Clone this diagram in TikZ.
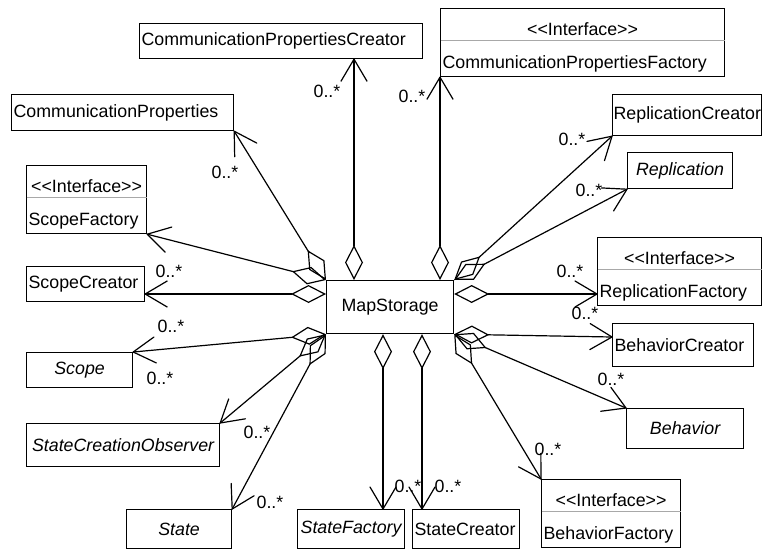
\documentclass[tikz,border=0pt]{standalone}
\usepackage{fontspec}
\setmainfont{Liberation Sans}
\usepackage{tikz}
\usetikzlibrary{calc,arrows.meta}
\definecolor{ink}{HTML}{000000}
\definecolor{rule}{HTML}{A8A8A8}
\newcommand{\ifctext}[1]{\rule{0pt}{27pt}\makebox[\hsize]{<{}<Interface>{}>}\\#1\rule[-8pt]{0pt}{8pt}}
% open V head of a navigable association
\pgfdeclarearrow{
  name = Open Vee,
  parameters = {\the\pgfarrowlength,\the\pgfarrowwidth,\the\pgflinewidth},
  setup code = {
    \pgfarrowssettipend{\pgfarrowlength}
    \pgfarrowssetlineend{\pgfarrowlength}
    \pgfarrowshullpoint{\pgfarrowlength}{0pt}
    \pgfarrowsupperhullpoint{0pt}{.5\pgfarrowwidth}
    \pgfarrowssavethe\pgfarrowlength
    \pgfarrowssavethe\pgfarrowwidth
  },
  drawing code = {
    \pgfsetroundjoin\pgfsetroundcap
    \pgfpathmoveto{\pgfqpoint{0pt}{.5\pgfarrowwidth}}
    \pgfpathlineto{\pgfqpoint{\pgfarrowlength}{0pt}}
    \pgfpathlineto{\pgfqpoint{0pt}{-.5\pgfarrowwidth}}
    \pgfusepathqstroke
  },
  defaults = {length=22pt, width=26pt}
}
\tikzset{
  cls/.style={draw=ink, line width=1.2pt, anchor=north west, inner xsep=2pt, inner ysep=0pt,
    align=left, font=\fontsize{17.8}{21}\selectfont},
  abs/.style={cls, align=center, font=\fontsize{17.8}{21}\selectfont\itshape},
  ifc/.style={cls, font=\fontsize{17.8}{33}\selectfont},
  sepl/.style={draw=rule, line width=0.6pt},
  agg/.style={draw=ink, line width=1.2pt, line join=round,
    arrows={Diamond[open,length=35pt,width=18pt]-Open Vee[length=22pt,width=26pt]}},
  mult/.style={text=ink, inner sep=0pt, font=\fontsize{17.8}{21}\selectfont},
}

\begin{document}
\begin{tikzpicture}[x=1pt,y=-1pt]
  \useasboundingbox (0,0) rectangle (763,552);
  % classes
  \node[cls, text width=123pt, minimum height=53pt, align=center] (ms) at (326,280) {MapStorage};
  \node[cls, text width=279pt, minimum height=35pt] (cpc) at (139,23) {CommunicationPropertiesCreator};
  \node[ifc, text width=280pt] (cpf) at (440,8) {\ifctext{CommunicationPropertiesFactory}};
  \node[cls, text width=218pt, minimum height=36pt] (cp) at (11,94) {CommunicationProperties};
  \node[ifc, text width=116pt] (sf) at (26,165) {\ifctext{ScopeFactory}};
  \node[cls, text width=114pt, minimum height=35pt] (sc) at (26,266) {ScopeCreator};
  \node[abs, text width=102pt, minimum height=35pt] (sco) at (26,352) {Scope};
  \node[abs, text width=189pt, minimum height=43pt] (obs) at (26,423) {StateCreationObserver};
  \node[abs, text width=101pt, minimum height=39pt] (st) at (126,509) {State};
  \node[abs, text width=103pt, minimum height=39pt] (stf) at (297,509) {StateFactory};
  \node[cls, text width=103pt, minimum height=39pt] (stc) at (412,509) {StateCreator};
  \node[ifc, text width=135pt] (bf) at (541,479) {\ifctext{BehaviorFactory}};
  \node[abs, text width=113pt, minimum height=40pt] (bh) at (626,408) {Behavior};
  \node[cls, text width=137pt, minimum height=43pt] (bc) at (612,323) {BehaviorCreator};
  \node[ifc, text width=160pt] (rf) at (597,237) {\ifctext{ReplicationFactory}};
  \node[abs, text width=101pt, minimum height=36pt] (rp) at (627,152) {Replication};
  \node[cls, text width=147pt, inner xsep=1pt, minimum height=41pt] (rc) at (612,94) {ReplicationCreator};
  \foreach \n in {cpf,sf,rf,bf}
    \draw[sepl] ($(\n.north west)+(0.6,32)$) -- ($(\n.north east)+(-0.6,32)$);

  % aggregations
  \path (ms.north west) ++(28,0) coordinate (ct)
        (ms.north west) ++(0,14) coordinate (cl)
        (ms.north east) ++(0,14) coordinate (cr)
        (ms.south west) ++(57,0) coordinate (cb1)
        (ms.south west) ++(96,0) coordinate (cb2)
        (bc.north west) ++(0,14) coordinate (cbc);
  \draw[agg] (ct) -- (ct |- cpc.south);
  \draw[agg] (ms.north -| cpf.south west) -- (cpf.south west);
  \draw[agg] (ms.north west) -- (cp.south east);
  \draw[agg] (ms.north west) -- (sf.south east);
  \draw[agg] (cl) -- (cl -| sc.east);
  \draw[agg] (ms.south west) -- (sco.north east);
  \draw[agg] (ms.south west) -- (obs.north east);
  \draw[agg] (ms.south west) -- (st.north east);
  \draw[agg] (cb1) -- (cb1 |- stf.north);
  \draw[agg] (cb2) -- (cb2 |- stc.north);
  \draw[agg] (ms.south east) -- (bf.north west);
  \draw[agg] (ms.south east) -- (bh.north west);
  \draw[agg] (ms.south east) -- (cbc);
  \draw[agg] (cr) -- (cr -| rf.west);
  \draw[agg] (ms.north east) -- (rp.south west);
  \draw[agg] (ms.north east) -- (rc.south west);

  % multiplicities
  \foreach \p [count=\i] in {(327,91),(412,96),(225,172),(169,271),(171,326),(160,378),
      (257,432),(270,502),(408,486),(448,486),(548,449),(611,379),(585,313),(570,271),
      (589,190),(572,139)}
    \node[mult] (m\i) at \p {0..*};
\end{tikzpicture}
\end{document}
